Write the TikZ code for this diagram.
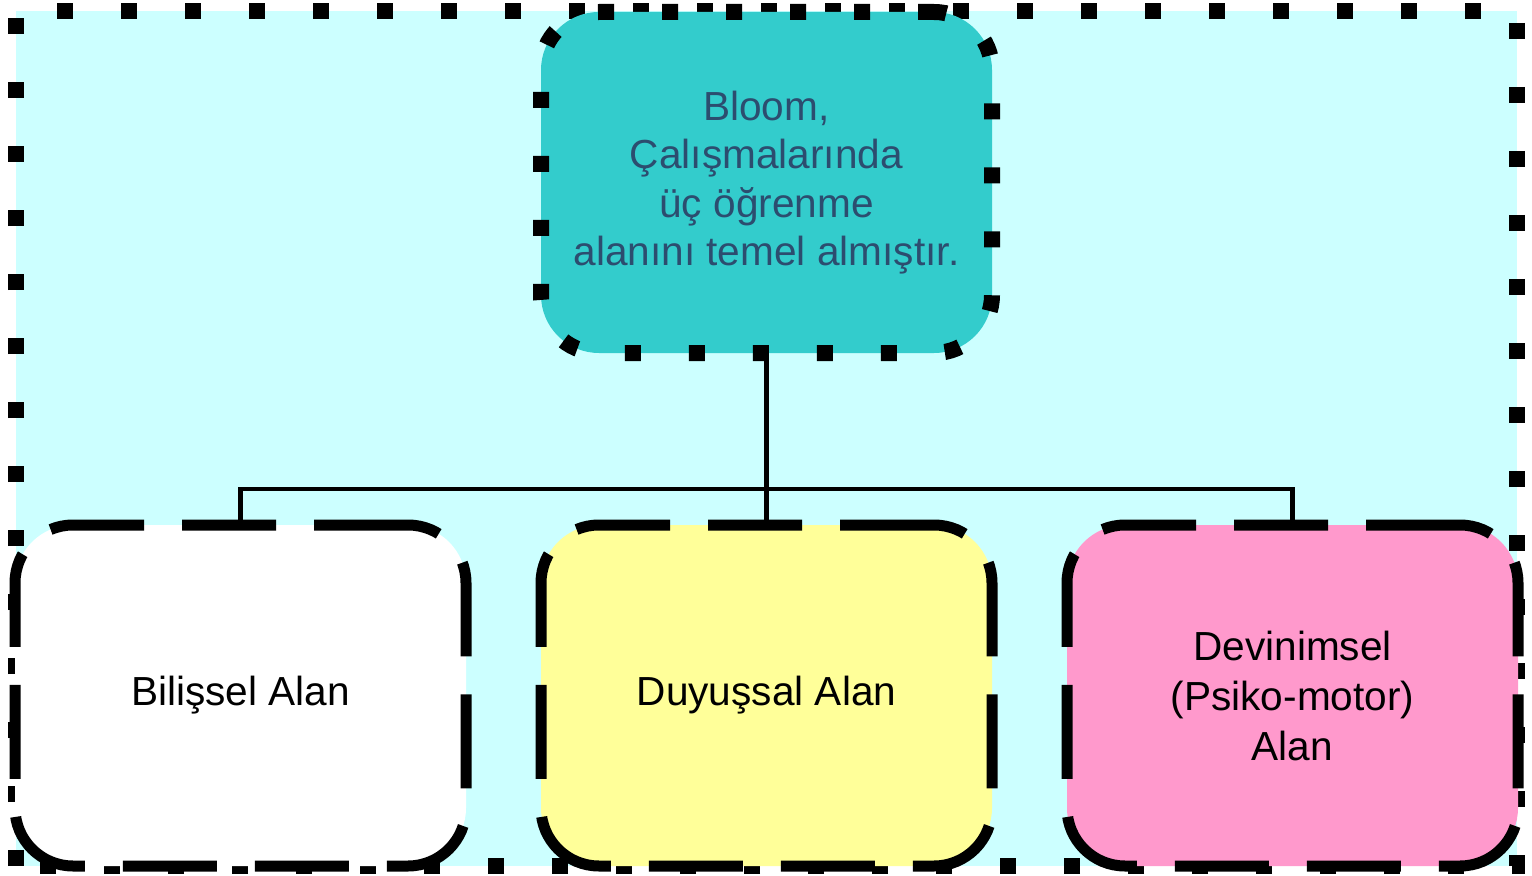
\documentclass[tikz,border=0pt]{standalone}
\usepackage{fontspec}
\setmainfont{Liberation Sans}
\usetikzlibrary{positioning}
\definecolor{backcyan}{HTML}{CCFFFF}
\definecolor{rootteal}{HTML}{33CCCC}
\definecolor{roottext}{HTML}{2C4D6F}
\definecolor{areayellow}{HTML}{FFFF99}
\definecolor{areapink}{HTML}{FF99CC}
\tikzstyle{backdrop} = [draw=black, fill=backcyan, line width=8pt, dash pattern=on 8pt off 24pt]
\tikzstyle{root} = [rectangle, rounded corners=29pt, minimum width=225.5pt, minimum height=170.5pt, inner sep=0pt, align=center, draw=black, fill=rootteal, text=roottext, line width=8pt, dash pattern=on 8pt off 24pt, font=\fontsize{20.3pt}{24.2pt}\selectfont]
\tikzstyle{area} = [rectangle, rounded corners=29pt, minimum width=225.5pt, minimum height=170.5pt, inner sep=0pt, align=center, draw=black, text=black, line width=5.5pt, dash pattern=on 47pt off 19pt, font=\fontsize{20.3pt}{25pt}\selectfont]
\tikzstyle{link} = [draw=black, line width=2.2pt]

\begin{document}
\begin{tikzpicture}[x=0.5pt, y=0.5pt, node distance=263pt]

\useasboundingbox (0,0) rectangle (1532,875);
\draw [backdrop] (16,9) rectangle (1517,864);

\node (bloom) [root] at (766.5,692.5) {Bloom,\\Çalışmalarında\\üç öğrenme\\alanını temel almıştır.};
\node (affect) [area, fill=areayellow, below of=bloom, yshift=6.5pt] {Duyuşsal Alan};
\node (cognit) [area, fill=white, left of=affect] {Bilişsel Alan};
\node (psycho) [area, fill=areapink, right of=affect] {Devinimsel\\(Psiko-motor)\\Alan};

\coordinate (bus) at (766.5,386);
\draw [link] (bloom) -- (affect);
\draw [link] (cognit) |- (bus) -| (psycho);

\end{tikzpicture}
\end{document}
